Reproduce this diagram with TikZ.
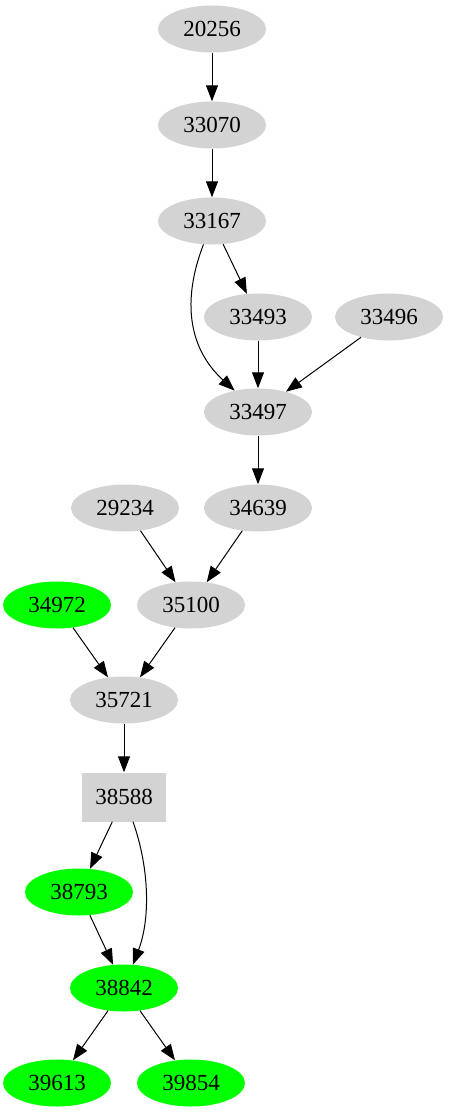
\documentclass[tikz,border=0pt]{standalone}
\usepackage{fontspec}
\setmainfont{Liberation Serif}
\usetikzlibrary{arrows.meta,shapes.geometric}
\definecolor{lgray}{HTML}{D3D3D3}
\definecolor{lgreen}{HTML}{00FF00}
\begin{document}
\begin{tikzpicture}[x=1pt,y=-1pt,
  every node/.style={font=\fontsize{23}{27}\selectfont, inner sep=0pt},
  gnode/.style={ellipse, fill=lgray, minimum width=108pt, minimum height=47pt},
  grnode/.style={ellipse, fill=lgreen, minimum width=108pt, minimum height=47pt},
  boxnode/.style={rectangle, fill=lgray, minimum width=84pt, minimum height=49pt},
  edge/.style={-{Triangle[length=16pt,width=12pt]}, line width=1pt, black}]
\useasboundingbox (0,0) rectangle (449,1115);
\node[gnode] (n20256) at (212,29) {20256};
\node[gnode] (n33070) at (212,125) {33070};
\node[gnode] (n33167) at (212,221) {33167};
\node[gnode] (n33493) at (258,317) {33493};
\node[gnode] (n33496) at (389,317) {33496};
\node[gnode] (n33497) at (258,412) {33497};
\node[gnode] (n29234) at (125,508) {29234};
\node[gnode] (n34639) at (258,508) {34639};
\node[grnode] (n34972) at (57,605) {34972};
\node[gnode] (n35100) at (191,605) {35100};
\node[gnode] (n35721) at (124,700) {35721};
\node[boxnode] (n38588) at (124,797) {38588};
\node[grnode] (n38793) at (79,892) {38793};
\node[grnode] (n38842) at (124,988) {38842};
\node[grnode] (n39613) at (57,1083) {39613};
\node[grnode] (n39854) at (191,1083) {39854};
\draw[edge] (n20256) -- (n33070);
\draw[edge] (n33070) -- (n33167);
\draw[edge] (n33167) -- (n33493);
\draw[edge] (n33167.250) .. controls (182,300) and (188,348) .. (n33497);
\draw[edge] (n33493) -- (n33497);
\draw[edge] (n33496) -- (n33497);
\draw[edge] (n33497) -- (n34639);
\draw[edge] (n29234) -- (n35100);
\draw[edge] (n34639) -- (n35100);
\draw[edge] (n34972) -- (n35721);
\draw[edge] (n35100) -- (n35721);
\draw[edge] (n35721) -- (n38588);
\draw[edge] (n38588) -- (n38793);
\draw[edge] ([xshift=9pt]n38588.south) .. controls (150,870) and (150,920) .. (n38842);
\draw[edge] (n38793) -- (n38842);
\draw[edge] (n38842) -- (n39613);
\draw[edge] (n38842) -- (n39854);
\end{tikzpicture}
\end{document}
